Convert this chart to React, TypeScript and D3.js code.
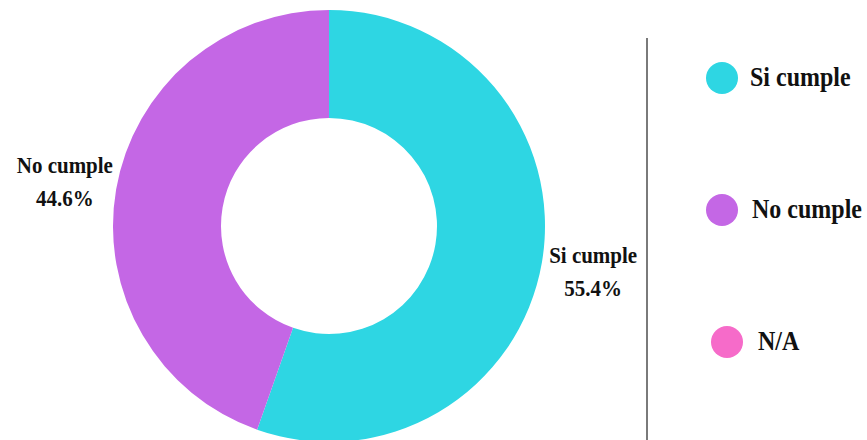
import React from "react";
import * as d3 from "d3";

const categories = ["Si cumple", "No cumple", "N/A"];
const values = [55.4, 44.6, 0];
const colors = ["#2ED6E3", "#C467E5", "#F66BC9"];

const W = 867;
const H = 440;
const cx = 329;
const cy = 226;
const outerR = 216;
const innerR = 108;
const labelR = 268;

const legendX = [722, 722, 727];
const legendY = [78, 210, 342];
const legendTextX = [750, 752, 758];

const fontStyle = { fontFamily: "Times New Roman, Liberation Serif, Times, serif", fontWeight: 700 };

export default function App() {
  const pie = d3.pie<number>().sort(null).value((d) => d)(values);
  const arc = d3.arc<d3.PieArcDatum<number>>().innerRadius(innerR).outerRadius(outerR);
  const labelArc = d3.arc<d3.PieArcDatum<number>>().innerRadius(labelR).outerRadius(labelR);
  const fmt = d3.format(".1f");

  return (
    <svg width={W} height={H} style={{ position: "absolute", left: 0, top: 0, background: "#fff" }}>
      <g transform={`translate(${cx},${cy})`}>
        {pie.map((p, i) =>
          p.value > 0 ? <path key={i} d={arc(p) || ""} fill={colors[i]} /> : null
        )}
      </g>
      {pie.map((p, i) => {
        if (p.value <= 0) return null;
        const [lx, ly] = labelArc.centroid(p);
        const x = cx + lx;
        const y = cy + ly;
        return (
          <g key={"l" + i} fill="#111" textAnchor="middle">
            <text style={{ ...fontStyle, fontSize: 21 }} transform={`translate(${x},${y - 8}) scale(1,1.1)`}>{categories[i]}</text>
            <text style={{ ...fontStyle, fontSize: 21 }} transform={`translate(${x},${y + 25}) scale(1,1.1)`}>{fmt(values[i])}%</text>
          </g>
        );
      })}
      <line x1={647} x2={647} y1={38} y2={H} stroke="#7a7a7a" strokeWidth={2} />
      {categories.map((c, i) => (
        <g key={"g" + i}>
          <circle cx={legendX[i]} cy={legendY[i]} r={16} fill={colors[i]} />
          <text
            transform={`translate(${legendTextX[i]},${legendY[i] + 8}) scale(1,1.12)`}
            style={{ ...fontStyle, fontSize: 24 }}
            fill="#111"
          >
            {c}
          </text>
        </g>
      ))}
    </svg>
  );
}
